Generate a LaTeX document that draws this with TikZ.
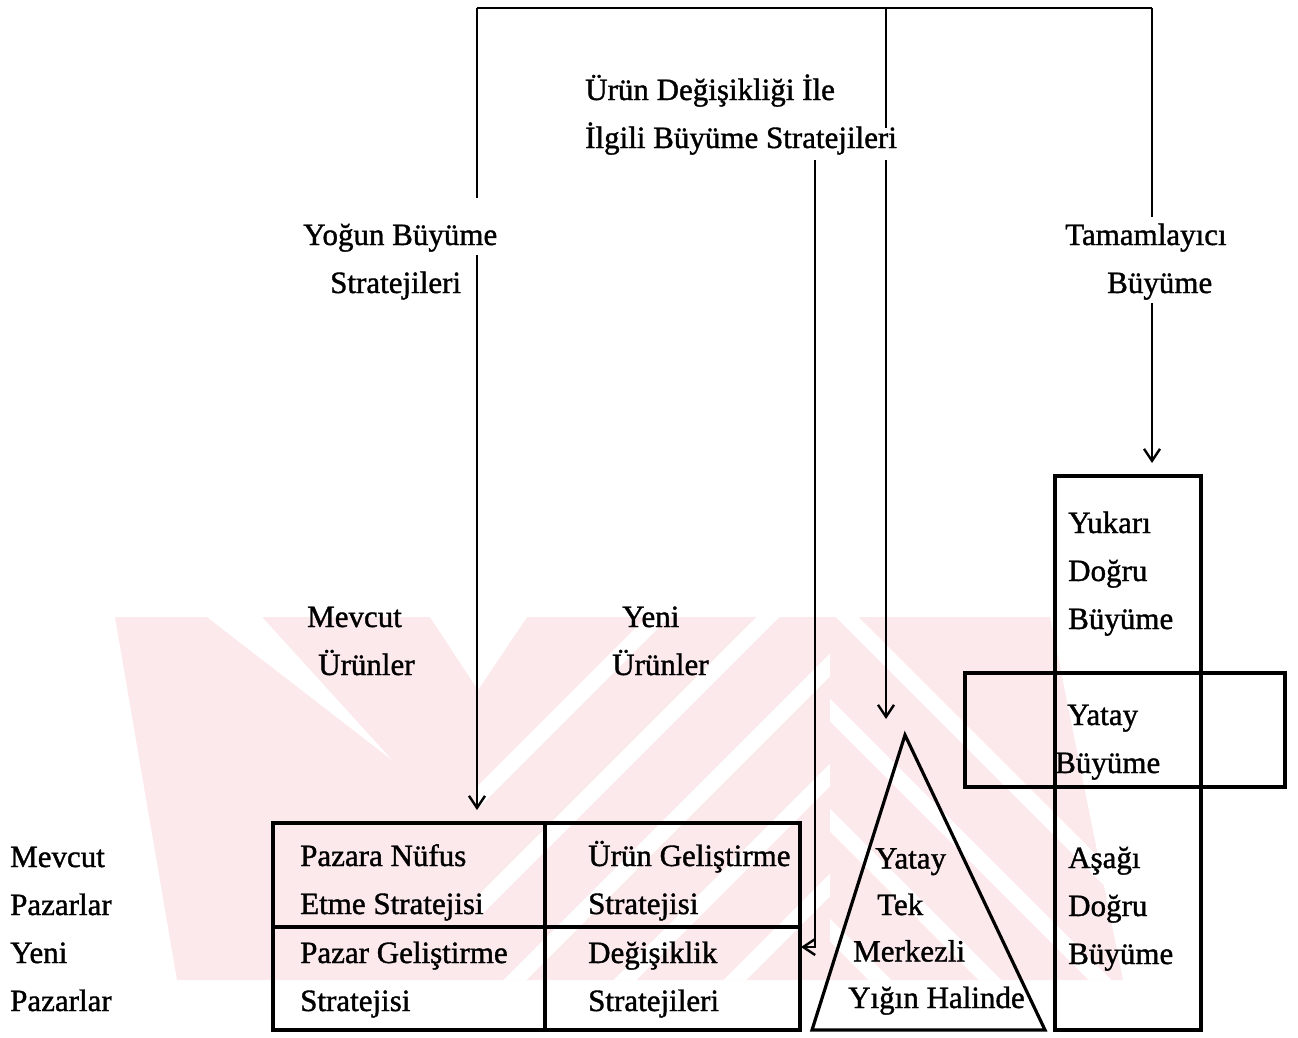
\documentclass[tikz,border=0pt]{standalone}
\usepackage{fontspec}
\setmainfont{Liberation Serif}[FakeBold=1.2]
\usetikzlibrary{arrows.meta}
\definecolor{wmpink}{RGB}{252,233,236}
\begin{document}
\begin{tikzpicture}[x=1pt,y=-1pt,
  % multi-line labels are placed by the baseline of their last line
  lbl/.style={anchor=base west, inner sep=0pt, align=left, font=\fontsize{31}{48}\selectfont},
  frame/.style={line width=3.2pt, line join=miter, line cap=rect},
  link/.style={line width=2.4pt},
  tip/.style={-{Straight Barb[length=12pt,width=16pt,line width=2.4pt]}}
]
\useasboundingbox (0,0) rectangle (1298,1037);

% faint striped background emblem
\begin{scope}
  \clip (115,617) -- (1050,617) -- (1123,980) -- (177,980) -- cycle;
  \fill[wmpink] (100,600) rectangle (1200,1000);
  \fill[white] (207,617) -- (262,617) -- (392,760) -- cycle;
  \fill[white] (430,617) -- (527,617) -- (478,690) -- cycle;
  \begin{scope}
    \clip (478,600) rectangle (830,1000);
    \foreach \c in {1275,1385,1495,1605,1715}
      \draw[white, line width=16pt] ({\c-600},600) -- ({\c-1000},1000);
  \end{scope}
  \begin{scope}
    \clip (830,600) rectangle (1200,1000);
    \foreach \c in {-100,10,120,230}
      \draw[white, line width=16pt] ({600+\c},600) -- ({1000+\c},1000);
  \end{scope}
\end{scope}

% boxes
\coordinate (mNW) at (273,823);
\coordinate (mSE) at (800,1030);
\draw[frame] (mNW) rectangle (mSE);
\draw[frame] (545,823) -- (545,1030);
\draw[frame] (273,927) -- (800,927);

\coordinate (apex) at (905,735);
\draw[frame] (apex) -- (1045,1030) -- (812,1030) -- cycle;

\coordinate (colTop) at (1152,476);
\draw[frame] (1055,476) rectangle (1201,1030);
\draw[frame] (965,673) rectangle (1285,787);

% labels
\node[lbl] (uds) at (585,148) {Ürün Değişikliği İle\\İlgili Büyüme Stratejileri};
\node[lbl] (ybs) at (303,293) {Yoğun Büyüme\\\hspace*{27pt}Stratejileri};
\node[lbl] (tmb) at (1065,293) {Tamamlayıcı\\\hspace*{42pt}Büyüme};
\node[lbl] (mev) at (307,675) {Mevcut\\\hspace*{11pt}Ürünler};
\node[lbl] (yen) at (612,675) {\hspace*{10pt}Yeni\\Ürünler};
\node[lbl] (paz) at (10,1011) {Mevcut\\Pazarlar\\Yeni\\Pazarlar};
\node[lbl] (c11) at (300,914) {Pazara Nüfus\\Etme Stratejisi};
\node[lbl] (c21) at (300,1011) {Pazar Geliştirme\\Stratejisi};
\node[lbl] (c12) at (588,914) {Ürün Geliştirme\\Stratejisi};
\node[lbl] (c22) at (588,1011) {Değişiklik\\Stratejileri};
\node[lbl, font=\fontsize{31}{46.5}\selectfont] (tri) at (848,1008)
  {\hspace*{27pt}Yatay\\\hspace*{29pt}Tek\\\hspace*{5pt}Merkezli\\Yığın Halinde};
\node[lbl] (yuk) at (1068,629) {Yukarı\\Doğru\\Büyüme};
\node[lbl] (yat) at (1055,773) {\hspace*{12pt}Yatay\\Büyüme};
\node[lbl] (asa) at (1068,964) {Aşağı\\Doğru\\Büyüme};

% connectors
\coordinate (topL) at (477,8);
\coordinate (topM) at (886,8);
\coordinate (topR) at (1152,8);
\coordinate (lA) at (477,198);
\coordinate (lB) at (477,255);
\coordinate (lTip) at (477,810);
\coordinate (mA) at (886,128);
\coordinate (mB) at (886,160);
\coordinate (mTip) at (886,719);
\coordinate (bA) at (815,160);
\coordinate (bB) at (815,947);
\coordinate (bTip) at (801,947);
\coordinate (rA) at (1152,217);
\coordinate (rB) at (1152,303);
\coordinate (rTip) at (1152,463);

\draw[link] (topL) -- (topR);
\draw[link] (topL) -- (lA);
\draw[link, tip] (lB) -- (lTip);
\draw[link] (topM) -- (mA);
\draw[link, tip] (mB) -- (mTip);
\draw[link, tip] (bA) -- (bB) -- (bTip);
\draw[link] (topR) -- (rA);
\draw[link, tip] (rB) -- (rTip);
\end{tikzpicture}
\end{document}
